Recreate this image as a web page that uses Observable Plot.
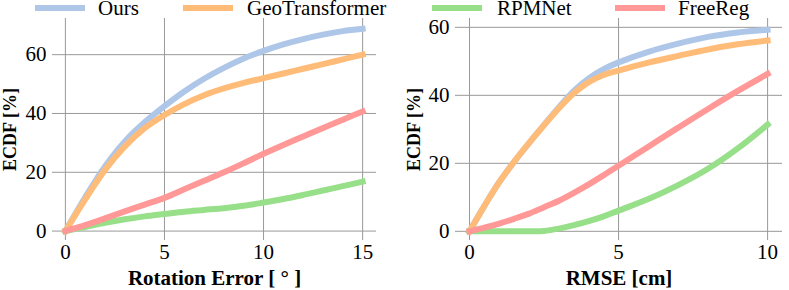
<!DOCTYPE html>
<html>
<head>
<meta charset="utf-8">
<script src="https://cdn.jsdelivr.net/npm/d3@7"></script>
<script src="https://cdn.jsdelivr.net/npm/@observablehq/plot@0.6"></script>
<style>
  html, body { margin: 0; padding: 0; background: #fff; }
  #wrap { position: relative; width: 789px; height: 290px; overflow: hidden; font-family: "Liberation Serif", "DejaVu Serif", serif; }
  .panel { position: absolute; top: 0; }
  .panel text { font-family: "Liberation Serif", "DejaVu Serif", serif; }
  .leg-line { position: absolute; height: 6px; top: 5px; }
  .leg-text { position: absolute; top: 0px; font-size: 21px; line-height: 17px; color: #000; white-space: nowrap; font-family: "Liberation Serif", "DejaVu Serif", serif; }
</style>
</head>
<body>
<div id="wrap"></div>
<script>
// ---- data ----
const methods = ["Ours", "GeoTransformer", "RPMNet", "FreeReg"];
const colors = ["#aec7e8", "#ffbb78", "#98df8a", "#ff9896"];

// Left panel: Rotation error [deg]
const rotErr = [0, 1, 2, 3, 4, 5, 6, 7, 8, 9, 10, 11, 12, 13, 14, 15];
const oursRot = [0, 11.5, 22, 30.5, 37, 42.5, 47.5, 51.8, 55.5, 58.7, 61.3, 63.5, 65.3, 66.8, 68, 68.8];
const geoRot  = [0, 10.8, 20.8, 28.8, 35, 39.5, 43.2, 46.2, 48.5, 50.4, 52, 53.6, 55.2, 56.8, 58.4, 60];
const rpmRot  = [0, 1.4, 2.8, 4.0, 5.0, 5.8, 6.6, 7.2, 7.8, 8.6, 9.7, 10.9, 12.3, 13.8, 15.3, 16.8];
const freeRot = [0, 2, 4.3, 6.7, 9.0, 11.3, 14.2, 17.1, 20, 23.1, 26.3, 29.3, 32.2, 35.1, 37.9, 40.7];

// Right panel: RMSE [cm]
const rmse = [0, 0.5, 1, 1.5, 2, 2.5, 3, 3.5, 4, 4.5, 5, 6, 7, 8, 9, 10];
const oursRmse = [0, 7.5, 14.5, 20.5, 26, 31.3, 36.5, 41.3, 45, 47.7, 49.7, 52.8, 55.2, 57.2, 58.5, 59.3];
const geoRmse  = [0, 7.5, 14.5, 20.5, 26, 31.2, 36.2, 40.6, 43.9, 46, 47.3, 49.6, 51.6, 53.5, 55, 56.1];
const rpmRmse  = [0, 0, 0, 0, 0, 0.1, 0.8, 1.8, 3, 4.4, 6.1, 9.5, 13.6, 18.4, 24.4, 31.4];
const freeRmse = [0, 1.1, 2.3, 3.7, 5.2, 7.1, 9, 11.3, 13.8, 16.5, 19.3, 24.9, 30.5, 36, 41.3, 46.3];

const rotTicksX = [0, 5, 10, 15];
const rmseTicksX = [0, 5, 10];
const rotTicksY = [0, 20, 40, 60];
const rmseTicksY = [0, 20, 40, 60];

const serif = "Liberation Serif, DejaVu Serif, serif";

function toRows(xs, series) {
  const rows = [];
  series.forEach((vals, i) => vals.forEach((v, j) => rows.push({x: xs[j], y: v, m: methods[i]})));
  return rows;
}

function panel({xs, series, xDomain, yDomain, xTicks, yTicks, xLabel, width, ml, mr, yLabelDx}) {
  const rows = toRows(xs, series);
  return Plot.plot({
    width, height: 290,
    marginLeft: ml, marginRight: mr, marginTop: 18, marginBottom: 50,
    x: {domain: xDomain},
    y: {domain: yDomain},
    color: {domain: methods, range: colors},
    style: {fontFamily: serif, fontSize: "21px", background: "transparent", color: "#000", overflow: "visible"},
    marks: [
      Plot.gridX(xTicks, {stroke: "#999", strokeOpacity: 1, strokeWidth: 1}),
      Plot.gridY(yTicks, {stroke: "#999", strokeOpacity: 1, strokeWidth: 1}),
      Plot.axisX(xTicks, {tickSize: 0, tickPadding: 4, label: null, fontSize: 21, fontFamily: serif, tickFormat: d => String(d)}),
      Plot.axisY(yTicks, {tickSize: 0, tickPadding: 6, label: null, fontSize: 21, fontFamily: serif, tickFormat: d => String(d)}),
      Plot.line(rows, {x: "x", y: "y", z: "m", stroke: "m", strokeWidth: 6, curve: "catmull-rom", strokeLinecap: "square", strokeLinejoin: "round"}),
      Plot.text([xLabel], {text: d => d, frameAnchor: "bottom", dy: 38, lineAnchor: "middle", fontWeight: "bold", fontSize: 21, fontFamily: serif}),
      Plot.text(["ECDF [%]"], {text: d => d, frameAnchor: "left", dx: yLabelDx, rotate: -90, lineAnchor: "middle", textAnchor: "middle", fontWeight: "bold", fontSize: 18, fontFamily: serif})
    ]
  });
}

const wrap = document.getElementById("wrap");

const left = panel({
  xs: rotErr, series: [oursRot, geoRot, rpmRot, freeRot],
  xDomain: [-0.65, 15.7], yDomain: [-3.2, 72.3],
  xTicks: rotTicksX, yTicks: rotTicksY,
  xLabel: "Rotation Error [ \u00B0 ]",
  width: 395, ml: 52, mr: 19, yLabelDx: -42
});
left.classList.add("panel");
left.style.left = "0px";
wrap.appendChild(left);

const right = panel({
  xs: rmse, series: [oursRmse, geoRmse, rpmRmse, freeRmse],
  xDomain: [-0.47, 10.5], yDomain: [-2.7, 62.6],
  xTicks: rmseTicksX, yTicks: rmseTicksY,
  xLabel: "RMSE [cm]",
  width: 394, ml: 60, mr: 7, yLabelDx: -41
});
right.classList.add("panel");
right.style.left = "395px";
wrap.appendChild(right);

// ---- legend ----
const legendLineX = [35, 183, 432, 615];
const legendTextX = [98, 247, 497, 678];
methods.forEach((m, i) => {
  const ln = document.createElement("div");
  ln.className = "leg-line";
  ln.style.left = legendLineX[i] + "px";
  ln.style.width = "50px";
  ln.style.background = colors[i];
  wrap.appendChild(ln);
  const tx = document.createElement("div");
  tx.className = "leg-text";
  tx.style.left = legendTextX[i] + "px";
  tx.textContent = m;
  wrap.appendChild(tx);
});
</script>
</body>
</html>
